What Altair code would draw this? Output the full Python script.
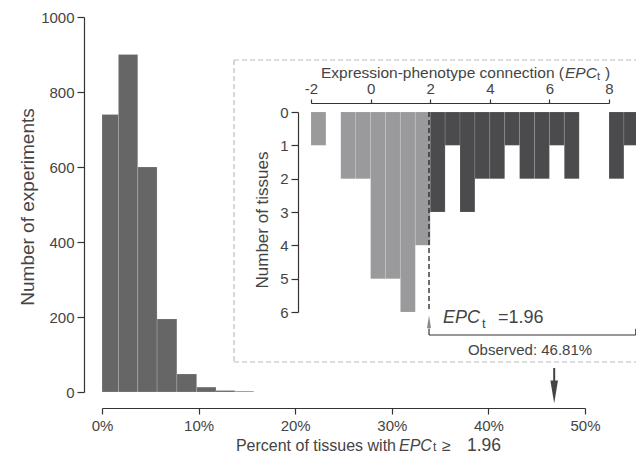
import altair as alt
import pandas as pd

FONT = "Liberation Sans"
TXT = "#444444"
AX = "#333333"

# ---------------- data ----------------
# main histogram: percent of tissues with EPCt >= 1.96 (bin edges, counts)
main_start = [0.0, 1.7, 3.7, 5.7, 7.75, 9.8, 11.8, 13.75]
main_end = [1.7, 3.7, 5.7, 7.75, 9.8, 11.8, 13.75, 15.7]
main_count = [740, 900, 600, 195, 48, 13, 4, 2]
main_x_ticks = [0, 10, 20, 30, 40, 50]
main_y_ticks = [0, 200, 400, 600, 800, 1000]
observed_pct = 46.81

# inset histogram: EPCt per tissue, bins of 0.5
bin_width = 0.5
light_start = [-2.0, -1.5, -1.0, -0.5, 0.0, 0.5, 1.0, 1.5]
light_count = [1, 0, 2, 2, 5, 5, 6, 4]
dark_start = [2.0, 2.5, 3.0, 3.5, 4.0, 4.5, 5.0, 5.5, 6.0, 6.5, 7.0, 7.5, 8.0, 8.5]
dark_count = [3, 1, 3, 2, 2, 1, 2, 2, 1, 2, 0, 0, 2, 1]
epc_threshold = 1.96
inset_x_ticks = [-2, 0, 2, 4, 6, 8]
inset_y_ticks = [0, 1, 2, 3, 4, 5, 6]

# ---------------- tables ----------------
main_df = pd.DataFrame({"start": main_start, "end": main_end, "count": main_count, "zero": 0})
light_df = pd.DataFrame({"start": light_start, "count": light_count})
light_df["end"] = light_df["start"] + bin_width
light_df["zero"] = 0
light_df = light_df[light_df["count"] > 0]
dark_df = pd.DataFrame({"start": dark_start, "count": dark_count})
dark_df["end"] = dark_df["start"] + bin_width
dark_df["zero"] = 0
dark_df = dark_df[dark_df["count"] > 0]

# ---------------- scales ----------------
mx = alt.Scale(domain=[0, 50], range=[18, 501], nice=False, zero=False)
my = alt.Scale(domain=[0, 1000], range=[375, 0], nice=False, zero=False)
ix = alt.Scale(domain=[-2, 8], range=[227, 525], nice=False, zero=False)
iy = alt.Scale(domain=[0, 6], range=[95, 295], nice=False, zero=False)

axis_common = dict(grid=False, domainColor=AX, tickColor=AX, labelColor=TXT,
                   labelFont=FONT, domainWidth=1.2, tickWidth=1.2, title=None,
                   labelFlush=False, labelOverlap=False)
num_expr = "'' + datum.value"

main_x_axis = alt.Axis(values=main_x_ticks, labelExpr="datum.value + '%'", orient="bottom",
                       tickSize=6, labelPadding=4, labelFontSize=15, **axis_common)
main_y_axis = alt.Axis(values=main_y_ticks, labelExpr=num_expr, orient="left", tickSize=7,
                       labelPadding=3, labelFontSize=15, **axis_common)
inset_x_axis = alt.Axis(values=inset_x_ticks, labelExpr=num_expr, orient="top", offset=-86,
                        tickSize=4, labelPadding=3, labelFontSize=15, **axis_common)
inset_y_axis = alt.Axis(values=inset_y_ticks, labelExpr=num_expr, orient="left", offset=-214,
                        tickSize=7, labelPadding=3, labelFontSize=15, **axis_common)


def txt(s, x, y, size, italic=False, align="left", baseline="alphabetic", angle=0, color=TXT):
    return alt.Chart(pd.DataFrame({"t": [s]})).mark_text(
        text=s, align=align, baseline=baseline, fontSize=size, font=FONT,
        fontStyle="italic" if italic else "normal", color=color, angle=angle
    ).encode(x=alt.value(x), y=alt.value(y))


one = pd.DataFrame({"a": [0]})

# ---------------- main layer ----------------
main_bars = alt.Chart(main_df).mark_rect(color="#666666", stroke="#ffffff", strokeWidth=0.4,
                                         strokeOpacity=0.4).encode(
    x=alt.X("start:Q", scale=mx, axis=main_x_axis),
    x2="end:Q",
    y=alt.Y("count:Q", scale=my, axis=main_y_axis),
    y2="zero:Q",
)
arrow_df = pd.DataFrame({"x": [observed_pct], "y1": [64], "y2": [6], "yh": [0]})
arrow_shaft = alt.Chart(arrow_df).mark_rule(color="#444444", strokeWidth=2).encode(
    x=alt.X("x:Q", scale=mx), y=alt.Y("y1:Q", scale=my), y2="y2:Q")
arrow_head = alt.Chart(arrow_df).mark_point(
    shape="M-0.33,-1L0.33,-1L0,1Z", size=529, filled=True, color="#444444", opacity=1
).encode(x=alt.X("x:Q", scale=mx), y=alt.Y("yh:Q", scale=my))

main_layer = alt.layer(main_bars, arrow_shaft, arrow_head)

# ---------------- inset layer ----------------
# dashed frame of the inset (open on the right, where it leaves the picture)
frame_style = dict(color="#bbbbbb", strokeWidth=1.2, strokeDash=[5, 3])
frame_top = alt.Chart(one).mark_rule(**frame_style).encode(
    x=alt.value(150), x2=alt.value(552), y=alt.value(43))
frame_bottom = alt.Chart(one).mark_rule(**frame_style).encode(
    x=alt.value(150), x2=alt.value(552), y=alt.value(345))
frame_left = alt.Chart(one).mark_rule(**frame_style).encode(
    x=alt.value(150), y=alt.value(43), y2=alt.value(345))

light_bars = alt.Chart(light_df).mark_rect(color="#9a9a9c", stroke="#ffffff", strokeWidth=0.4,
                                           strokeOpacity=0.3).encode(
    x=alt.X("start:Q", scale=ix, axis=inset_x_axis),
    x2="end:Q",
    y=alt.Y("zero:Q", scale=iy, axis=inset_y_axis),
    y2="count:Q",
)
dark_bars = alt.Chart(dark_df).mark_rect(color="#4b4b4d", stroke="#ffffff", strokeWidth=0.4,
                                         strokeOpacity=0.3).encode(
    x=alt.X("start:Q", scale=ix), x2="end:Q",
    y=alt.Y("zero:Q", scale=iy), y2="count:Q",
)
thr_df = pd.DataFrame({"x": [epc_threshold], "y0": [0], "y1": [6.0], "yt": [6.29]})
thr_line = alt.Chart(thr_df).mark_rule(color="#222222", strokeWidth=1.3,
                                       strokeDash=[5, 3]).encode(
    x=alt.X("x:Q", scale=ix), y=alt.Y("y0:Q", scale=iy), y2="y1:Q")
thr_tri = alt.Chart(thr_df).mark_point(
    shape="M0,-1L0.31,1L-0.31,1Z", size=169, filled=True, color="#8a8a8a", opacity=1
).encode(x=alt.X("x:Q", scale=ix), y=alt.Y("yt:Q", scale=iy))

br_h = pd.DataFrame({"x": [epc_threshold], "x2": [8.9], "y": [6.69]})
br_v = pd.DataFrame({"x": [epc_threshold, 8.9], "y": [6.5, 6.5], "y2": [6.69, 6.69]})
bracket_h = alt.Chart(br_h).mark_rule(color="#333333", strokeWidth=1.2).encode(
    x=alt.X("x:Q", scale=ix), x2="x2:Q", y=alt.Y("y:Q", scale=iy))
bracket_v = alt.Chart(br_v).mark_rule(color="#333333", strokeWidth=1.2).encode(
    x=alt.X("x:Q", scale=ix), y=alt.Y("y:Q", scale=iy), y2="y2:Q")


def dtxt(s, x, y, size, italic=False, align="left", baseline="alphabetic"):
    return alt.Chart(pd.DataFrame({"x": [x], "y": [y]})).mark_text(
        text=s, align=align, baseline=baseline, fontSize=size, font=FONT,
        fontStyle="italic" if italic else "normal", color=TXT
    ).encode(x=alt.X("x:Q", scale=ix), y=alt.Y("y:Q", scale=iy))


epc_lbl = dtxt("EPC", 2.43, 6.34, 18, italic=True)
epc_sub = dtxt("t", 3.74, 6.48, 13)
epc_val = dtxt("=1.96", 4.275, 6.34, 18)
obs_lbl = dtxt("Observed: 46.81%", 5.35, 7.14, 15, align="center", baseline="middle")

inset_layer = alt.layer(frame_top, frame_bottom, frame_left, light_bars, dark_bars, thr_line,
                        thr_tri, bracket_h, bracket_v, epc_lbl, epc_sub, epc_val, obs_lbl)

# ---------------- titles ----------------
titles = alt.layer(
    txt("Number of experiments", -56, 190, 19, align="center", baseline="middle", angle=270),
    txt("Percent of tissues with", 312, 434, 16, align="right"),
    txt("EPC", 315, 434, 16, italic=True),
    txt("t", 349, 434, 12),
    txt("\u2265", 358, 434, 16),
    txt("1.96", 383, 434, 17.5),
    txt("Number of tissues", 179, 203, 17, align="center", baseline="middle", angle=270),
    txt("Expression-phenotype connection (", 480, 61, 15.5, align="right"),
    txt("EPC", 481, 61, 15.5, italic=True),
    txt("t", 513, 63, 11),
    txt(")", 521, 61, 15.5),
)

chart = alt.layer(main_layer, inset_layer, titles).resolve_scale(
    x="independent", y="independent"
).properties(
    width=552, height=391,
    autosize=alt.AutoSizeParams(type="none"),
    padding={"left": 76, "top": 9, "right": 0, "bottom": 47},
    background="white",
).configure_view(stroke=None).configure_axis(grid=False)

chart.save("out.html", embed_options={"renderer": "svg", "actions": False})
